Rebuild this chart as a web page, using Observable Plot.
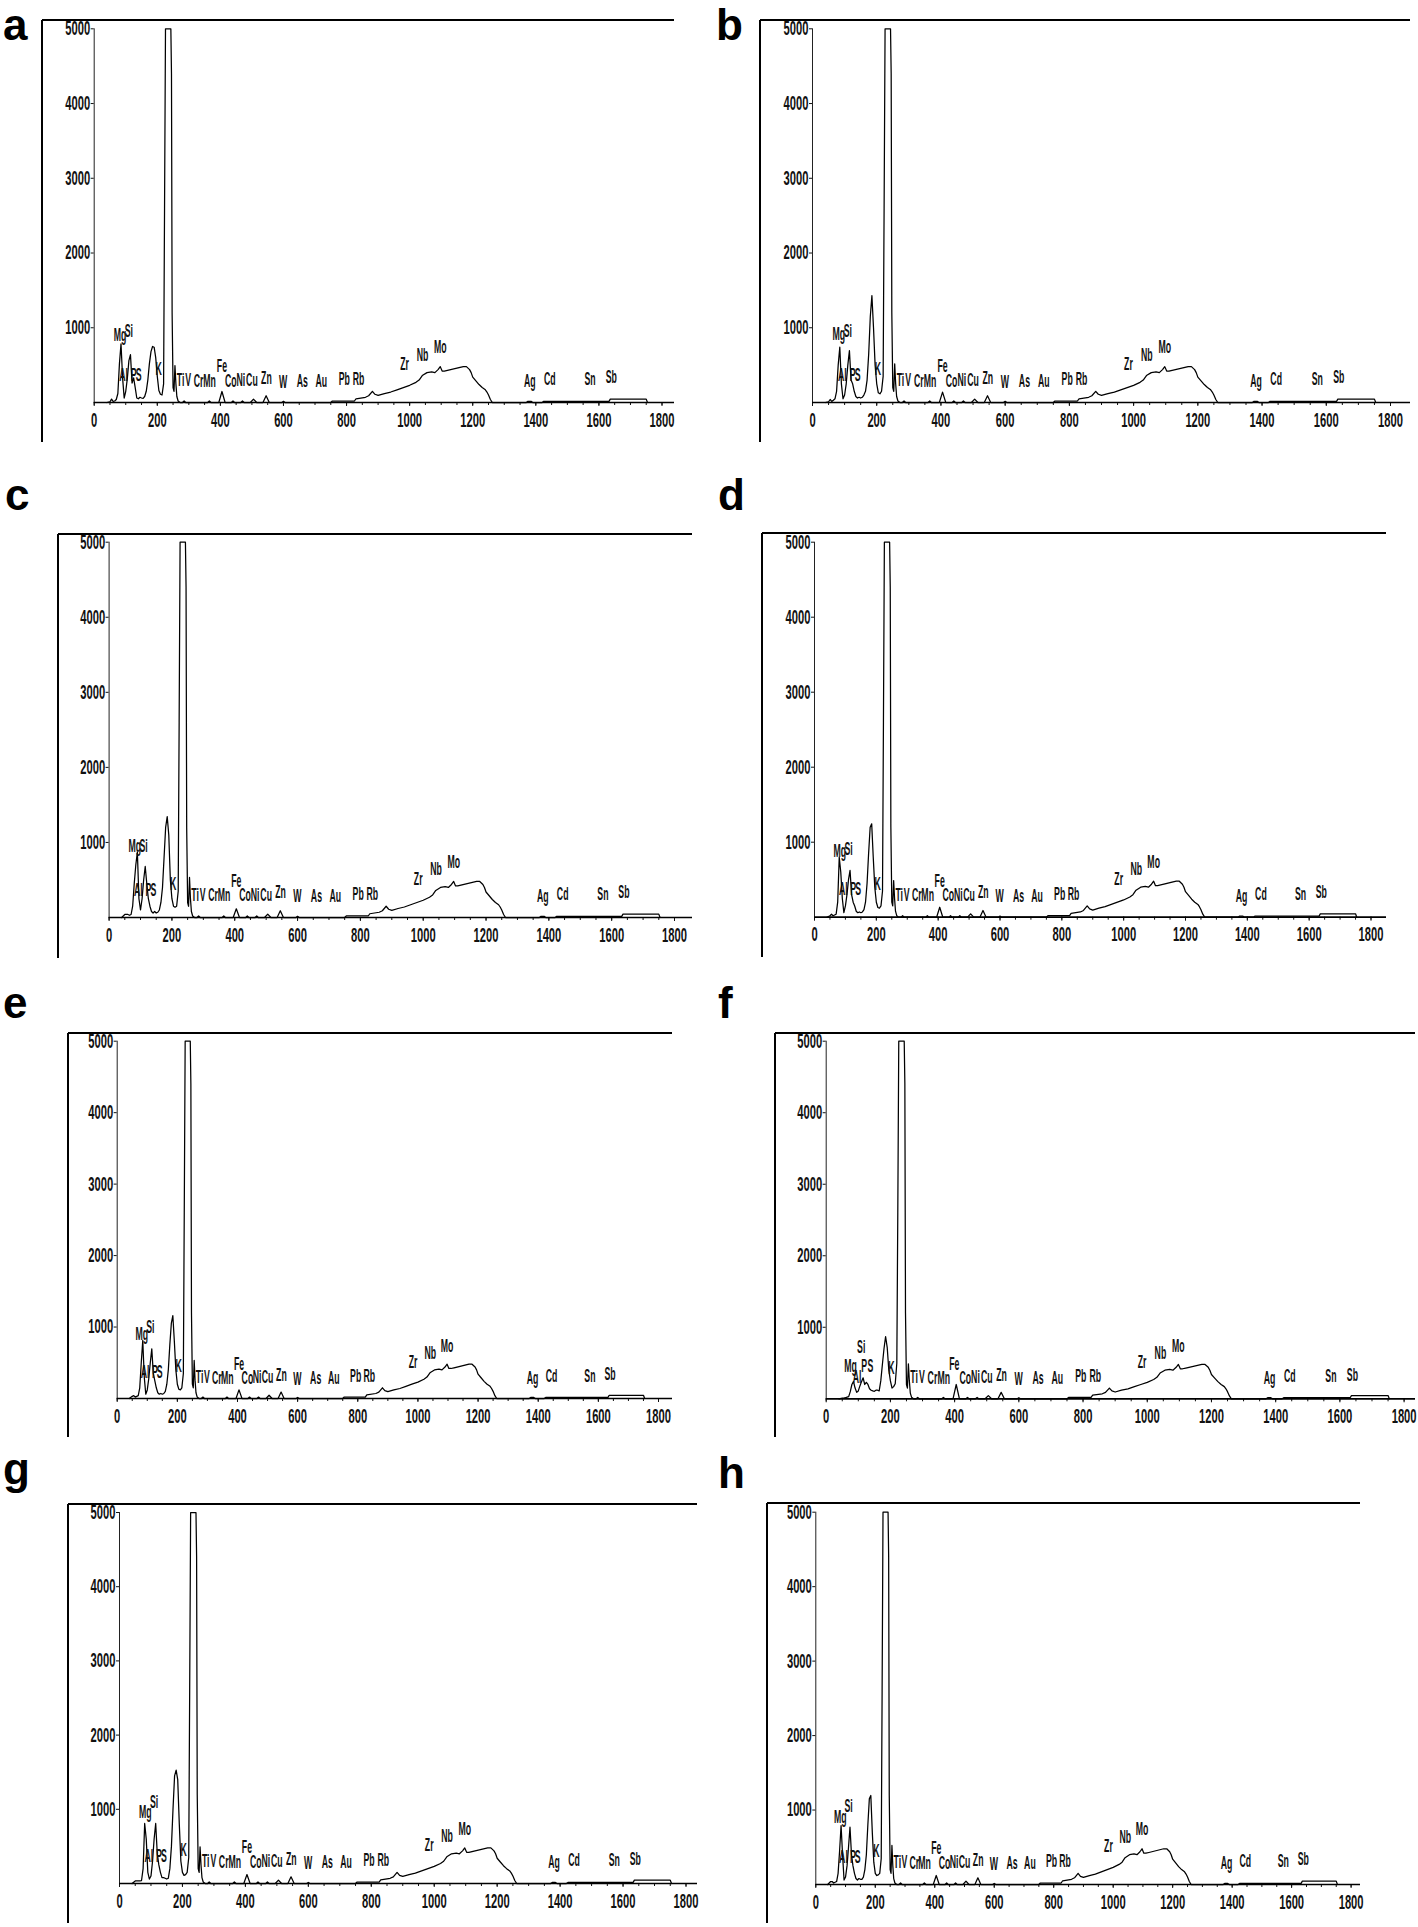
<!DOCTYPE html>
<html><head><meta charset="utf-8">
<script src="https://cdn.jsdelivr.net/npm/d3@7"></script>
<script src="https://cdn.jsdelivr.net/npm/@observablehq/plot@0.6"></script>
<style>
html,body{margin:0;padding:0;background:#fff}
body{width:1418px;height:1927px;position:relative;overflow:hidden;font-family:"Liberation Sans",Arial,sans-serif;color:#000}
.fl{position:absolute;background:#000}
</style></head><body>
<script>
// ---------------- data ----------------
const panelNames = ["a","b","c","d","e","f","g","h"];

// shared channel grid of the low-energy part (Mg ... Ar region)
const headX = [40,50,55,60,65,70,75,80,85,90,95,100,105,110,115,120,125,130,135,140,145,150,155,160,165,170,175,180,185,190,195,200,205,210,215,220,223,226,229,243,245,247,250,253,256,259,262];
const headA = [0,10,45,15,20,40,120,520,785,330,60,150,320,560,640,260,330,200,60,50,70,60,55,80,150,300,520,680,750,740,600,350,160,110,100,250,2600,5000,5000,5000,4400,1200,200,150,495,250,80];
const headB = [0,10,40,15,30,50,150,500,740,250,50,100,250,500,695,300,250,150,80,60,70,60,70,100,150,300,650,1150,1430,1000,500,250,130,116,150,350,2600,5000,5000,5000,4400,1200,200,150,517,250,80];
const headC = [0,40,40,40,30,40,150,450,700,870,250,100,250,500,680,450,250,150,80,60,80,60,70,100,200,400,800,1200,1345,1100,500,250,150,137,150,350,2600,5000,5000,5000,4400,1200,200,150,533,250,80];
const headD = [0,20,40,20,30,40,200,800,600,250,60,150,300,500,623,300,200,150,80,60,70,60,70,100,200,450,850,1200,1245,800,400,200,130,120,150,350,2600,5000,5000,5000,4400,1200,200,150,489,250,80];
const headE = [0,30,40,20,30,40,150,500,812,300,60,120,280,500,695,350,250,150,80,60,70,60,70,100,200,400,750,1050,1161,800,400,200,130,120,150,350,2600,5000,5000,5000,4400,1200,200,150,532,250,80];
const headF = [0,10,10,15,23,30,100,200,242,150,90,110,180,240,293,200,230,200,140,120,110,105,120,120,110,250,480,700,871,720,400,250,150,170,210,500,2600,5000,5000,5000,4400,1200,200,150,489,250,80];
const headG = [0,35,35,35,35,40,200,809,600,150,60,100,300,600,809,400,250,150,80,80,70,60,70,200,500,1000,1450,1527,1400,800,300,150,110,120,150,350,2600,5000,5000,5000,4400,1200,200,150,494,250,80];
const headH = [0,40,40,20,30,40,150,450,792,400,60,100,250,500,770,400,250,150,80,60,80,70,70,100,200,400,800,1150,1195,700,300,150,120,130,150,350,2600,5000,5000,5000,4400,1200,200,150,524,250,80];

// shared high-energy part (Fe ... Sb region)
const tailX = [266,272,280,285,290,360,365,370,395,405,415,435,440,445,465,470,475,495,505,515,535,545,555,595,600,605,750,755,825,830,860,870,882,890,900,920,940,960,980,1000,1020,1030,1040,1055,1070,1080,1090,1097,1103,1110,1120,1140,1160,1170,1180,1190,1195,1200,1210,1220,1230,1240,1245,1250,1256,1262,1370,1375,1385,1390,1420,1425,1630,1632,1636,1750,1754];
const tailY = [20,0,0,20,0,0,20,0,0,147,0,0,20,0,0,20,0,0,45,0,0,90,0,0,15,0,0,20,20,50,70,90,150,110,95,120,140,170,200,230,270,300,360,400,410,400,440,480,420,420,430,450,470,480,480,440,400,340,290,240,200,170,140,100,40,0,0,15,15,0,0,15,15,15,45,45,0];
const feChannel = 405;
const feCounts = [147,138,116,133,121,200,121,121];

// element labels
const labelText = ["Mg","Si","Al","P","S","K","Ti","V","Cr","Mn","Fe","Co","Ni","Cu","Zn","W","As","Au","Pb","Rb","Zr","Nb","Mo","Ag","Cd","Sn","Sb"];
const labelX  = [82,110,93,125,141,204,274,298,331,366,405,433,465,500,546,599,660,720,793,838,984,1041,1097,1381,1444,1572,1639];
const labelY  = [910,955,374,374,374,450,303,303,295,295,490,295,303,303,335,281,285,285,316,316,517,642,740,285,316,316,338];
const labelXF = [76,109,96,118,138,203,274,298,331,366,399,433,465,500,546,599,660,720,793,838,984,1041,1097,1381,1444,1572,1639];
const labelYF = [465,721,300,465,465,437,302,302,295,295,489,295,303,303,335,281,285,285,316,316,517,642,740,285,316,316,338];
const mgLabelY = [910,918,959,889,905,465,966,913];
const siLabelY = [955,963,959,911,998,721,1100,1061];

// ticks
const xTicks = [0,200,400,600,800,1000,1200,1400,1600,1800];
const xMinorTicks = [0,50,100,150,200,250,300,350,400,450,500,550,600,650,700,750,800,850,900,950,1000,1050,1100,1150,1200,1250,1300,1350,1400,1450,1500,1550,1600,1650,1700,1750,1800];
const yTicks = [1000,2000,3000,4000,5000];

// ---------------- layout (pixel geometry) ----------------
const heads = [headA,headB,headC,headD,headE,headF,headG,headH];
const layout = {
  a:{fl:42, ft:20,  fb:442, x0:93.7,  x1:661.5,  xr:674,  y5:28.3,   yb:402,   lx:3,   lb:40},
  b:{fl:760,ft:20,  fb:442, x0:812,   x1:1390,   xr:1410, y5:28.3,   yb:402,   lx:716, lb:40},
  c:{fl:58, ft:534, fb:958, x0:108.6, x1:674,    xr:692,  y5:541.7,  yb:917,   lx:5,   lb:510},
  d:{fl:762,ft:533, fb:957, x0:814,   x1:1370.5, xr:1386, y5:541.7,  yb:916.7, lx:718, lb:510},
  e:{fl:68, ft:1033,fb:1437,x0:116.7, x1:658,    xr:672,  y5:1040.7, yb:1398,  lx:3,   lb:1018},
  f:{fl:775,ft:1033,fb:1437,x0:825.7, x1:1403.6, xr:1415, y5:1040.7, yb:1398.3,lx:718, lb:1018},
  g:{fl:68, ft:1504,fb:1923,x0:119,   x1:685.5,  xr:697,  y5:1512,   yb:1883,  lx:3,   lb:1484},
  h:{fl:767,ft:1503,fb:1923,x0:815.3, x1:1350.6, xr:1360, y5:1511.7, yb:1884,  lx:718, lb:1488}
};
const SX_TICK = 0.56;  // horizontal compression of the narrow bitmap-like tick font
const SX_LABEL = 0.46; // same for element labels

function compressText(svg){
  svg.querySelectorAll("text").forEach(t => {
    const g = t.closest("g[aria-label]");
    const isTick = g && /tick label/.test(g.getAttribute("aria-label"));
    const sx = isTick ? SX_TICK : SX_LABEL;
    const x = parseFloat(t.getAttribute("x")) || 0;
    const tr = t.getAttribute("transform") || "";
    t.setAttribute("transform", `${tr} translate(${x},0) scale(${sx},1) translate(${-x},0)`);
  });
}

function line(left, top, w, h){
  const d = document.createElement("div");
  d.className = "fl";
  Object.assign(d.style, {left: left+"px", top: top+"px", width: w+"px", height: h+"px"});
  document.body.appendChild(d);
}

panelNames.forEach((p, i) => {
  const L = layout[p];
  const W = L.xr - L.fl, H = L.fb - L.ft;
  const xMax = 1800 * (L.xr - L.x0) / (L.x1 - L.x0);
  const head = heads[i];
  const series = headX.map((x, k) => ({x, y: head[k]}))
    .concat(tailX.map((x, k) => ({x, y: x === feChannel ? feCounts[i] : tailY[k]})));
  const lx = p === "f" ? labelXF : labelX;
  const ly = p === "f" ? labelYF : labelY.map((v, k) => k === 0 ? mgLabelY[i] : k === 1 ? siLabelY[i] : v);
  const labels = labelText.map((t, k) => ({t, x: lx[k], y: ly[k]}));

  const svg = Plot.plot({
    width: W, height: H,
    marginLeft: L.x0 - L.fl, marginRight: 0,
    marginTop: L.y5 - L.ft, marginBottom: L.fb - L.yb,
    x: {domain: [0, xMax]},
    y: {domain: [0, 5000]},
    style: {fontFamily: '"Liberation Sans", Arial, sans-serif', fontSize: "20px", fontWeight: "bold", background: "transparent", overflow: "visible", color: "#111"},
    marks: [
      Plot.ruleX([0], {y1: 0, y2: 5000, stroke: "#222", strokeWidth: 1}),
      Plot.axisX({ticks: xMinorTicks, tickSize: 3, tickFormat: () => "", label: null}),
      Plot.axisX({ticks: xTicks, tickSize: 4, tickPadding: 6, tickFormat: "d", label: null}),
      Plot.axisY({ticks: yTicks, tickSize: 3, tickPadding: 1, tickFormat: "d", label: null}),
      Plot.line(series, {x: "x", y: "y", stroke: "#000", strokeWidth: 1.25}),
      Plot.ruleY([0], {stroke: "#000", strokeWidth: 1.7}),
      Plot.text(labels, {x: "x", y: "y", text: "t", fontSize: 19, fill: "#111"})
    ]
  });
  compressText(svg);
  Object.assign(svg.style, {position: "absolute", left: L.fl + "px", top: L.ft + "px"});
  document.body.appendChild(svg);
  // outer frame lines (top and left)
  line(L.fl, L.ft - 1, W, 2);
  line(L.fl - 0.75, L.ft, 1.5, H);
});

// panel letters
const NS = "http://www.w3.org/2000/svg";
const over = document.createElementNS(NS, "svg");
over.setAttribute("width", 1418); over.setAttribute("height", 1927);
Object.assign(over.style, {position: "absolute", left: "0px", top: "0px", pointerEvents: "none"});
panelNames.forEach(p => {
  const t = document.createElementNS(NS, "text");
  t.setAttribute("x", layout[p].lx); t.setAttribute("y", layout[p].lb);
  t.setAttribute("font-family", '"Liberation Sans", Arial, sans-serif');
  t.setAttribute("font-weight", "bold"); t.setAttribute("font-size", "44");
  t.textContent = p;
  over.appendChild(t);
});
document.body.appendChild(over);
</script>
</body></html>
